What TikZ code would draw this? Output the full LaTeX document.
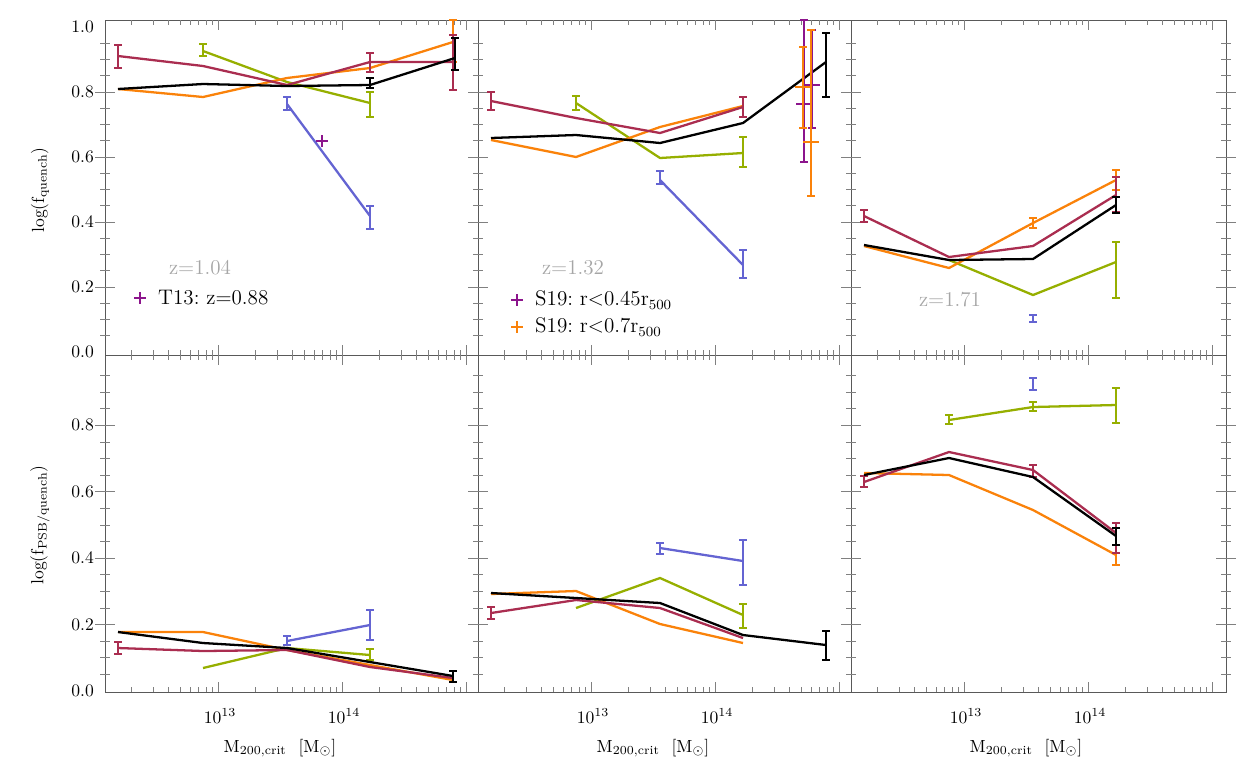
\documentclass[tikz,border=0pt]{standalone}
\usepackage{amsmath}
\usepackage{tikz}
\definecolor{qorange}{RGB}{250,130,10}
\definecolor{qmaroon}{RGB}{170,45,80}
\definecolor{qgreen}{RGB}{150,175,0}
\definecolor{qblue}{RGB}{100,100,210}
\definecolor{qpurple}{RGB}{140,20,140}
\newcommand{\ebar}[4]{\draw[#1] (#2,#3) -- (#2,#4) (#2-4,#3) -- (#2+4,#3) (#2-4,#4) -- (#2+4,#4);}
\begin{document}
\begin{tikzpicture}[x=0.02cm,y=-0.02cm]
  \tikzstyle{curve}=[line width=1.3pt, line join=round]
  \tikzstyle{errcap}=[line width=1pt]
  \tikzstyle{ticklab}=[font=\normalsize]
  \tikzstyle{ztext}=[text=gray!70, font=\large]
  \useasboundingbox (0,0) rectangle (1246,779);

  % panels and ticks
  \draw[gray!70!black] (105,20) rectangle (1226,692) (105,355) -- (1226,355)
    (478,20) -- (478,692) (851,20) -- (851,692);
  \foreach \ox in {0,373,746} {
    \foreach \d in {94,218,342,466} {
      \foreach \k in {2,...,9} {
        \pgfmathsetmacro{\tx}{\d+124*log10(\k)+\ox}
        \pgfmathtruncatemacro{\inside}{(\tx>105+\ox) && (\tx<478+\ox)}
        \ifnum\inside=1
          \draw[gray] (\tx,692) -- ++(0,-5) (\tx,355) -- ++(0,-5)
            (\tx,355) -- ++(0,5) (\tx,20) -- ++(0,5);
        \fi
      }
    }
    \foreach \d in {218,342,466} {
      \draw[gray] (\d+\ox,692) -- ++(0,-10) (\d+\ox,355) -- ++(0,-10)
        (\d+\ox,355) -- ++(0,10) (\d+\ox,20) -- ++(0,10);
    }
    \node[font=\normalsize] at (220+\ox,716) {$10^{13}$};
    \node[font=\normalsize] at (344+\ox,716) {$10^{14}$};
    \node at (280+\ox,748) {M$_{\text{200,crit}}$ \ [M$_\odot$]};
  }
  \foreach \xx in {105,478,851,1226} {
    \foreach \i in {1,...,19} {
      \draw[gray] (\xx,352-\i*16.25) -- ++(5,0) (\xx,352-\i*16.25) -- ++(-5,0);
      \draw[gray] (\xx,691-\i*16.6) -- ++(5,0) (\xx,691-\i*16.6) -- ++(-5,0);
    }
    \foreach \i in {1,...,4} {
      \draw[gray] (\xx,352-\i*65) -- ++(10,0) (\xx,352-\i*65) -- ++(-10,0);
      \draw[gray] (\xx,691-\i*66.5) -- ++(10,0) (\xx,691-\i*66.5) -- ++(-10,0);
    }
  }
  \foreach \v [count=\i from 0] in {0.0,0.2,0.4,0.6,0.8,1.0}
    \node[ticklab, anchor=east] at (100,352-\i*65) {\v};
  \foreach \v [count=\i from 0] in {0.0,0.2,0.4,0.6,0.8}
    \node[ticklab, anchor=east] at (100,691-\i*66.5) {\v};
  \node[rotate=90] at (40,190) {log(f$_{\text{quench}}$)};
  \node[rotate=90] at (40,525) {log(f$_{\text{PSB/quench}}$)};

  % top left
  \draw[curve, qblue] (287,104) -- (370,216);
  \ebar{errcap,qblue}{287}{97}{110} \ebar{errcap,qblue}{370}{206}{229}
  \draw[curve, qgreen] (203,51) -- (287,82) -- (370,103);
  \ebar{errcap,qgreen}{203}{44}{56} \ebar{errcap,qgreen}{370}{92}{117}
  \draw[curve, qorange] (118,89) -- (203,97) -- (287,78) -- (370,68) -- (453,42);
  \ebar{errcap,qorange}{453}{20}{62}
  \draw[curve, qmaroon] (118,56) -- (203,66) -- (287,85) -- (370,62) -- (453,62);
  \ebar{errcap,qmaroon}{118}{45}{68} \ebar{errcap,qmaroon}{370}{53}{72} \ebar{errcap,qmaroon}{453}{35}{90}
  \draw[curve] (118,89) -- (203,84) -- (287,86) -- (370,85) -- (455,58);
  \ebar{errcap}{455}{38}{70} \ebar{errcap}{370}{78}{88}
  \draw[qpurple, thick] (316,141) -- (328,141) (322,135) -- (322,147);
  \node[ztext] at (200,268) {z=1.04};
  \draw[qpurple, thick] (134,298) -- (146,298) (140,292) -- (140,304);
  \node[anchor=west, font=\large] at (152,298) {T13:\ z=0.88};

  % top middle
  \draw[curve, qblue] (660,180) -- (743,265);
  \ebar{errcap,qblue}{660}{171}{184} \ebar{errcap,qblue}{743}{250}{278}
  \draw[curve, qgreen] (576,103) -- (660,158) -- (743,153);
  \ebar{errcap,qgreen}{576}{96}{110} \ebar{errcap,qgreen}{743}{137}{167}
  \draw[curve, qorange] (491,140) -- (576,157) -- (660,127) -- (743,106);
  \draw[curve, qmaroon] (491,101) -- (576,118) -- (660,133) -- (743,107);
  \ebar{errcap,qmaroon}{491}{92}{110} \ebar{errcap,qmaroon}{743}{97}{117}
  \draw[curve] (491,138) -- (576,135) -- (660,143) -- (743,123) -- (826,62);
  \ebar{errcap}{826}{33}{97}
  \ebar{qpurple,thick}{804}{20}{162} \draw[qpurple,thick] (796,104) -- (812,104);
  \ebar{qpurple,thick}{812}{30}{128} \draw[qpurple,thick] (804,85) -- (820,85);
  \ebar{qorange,thick}{803}{47}{128} \draw[qorange,thick] (795,87) -- (811,87);
  \ebar{qorange,thick}{811}{30}{196} \draw[qorange,thick] (803,142) -- (819,142);
  \node[ztext] at (573,268) {z=1.32};
  \draw[qpurple, thick] (511,300) -- (523,300) (517,294) -- (517,306);
  \node[anchor=west, font=\large] at (529,300) {S19:\ r$<$0.45r$_{500}$};
  \draw[qorange, thick] (511,327) -- (523,327) (517,321) -- (517,333);
  \node[anchor=west, font=\large] at (529,327) {S19:\ r$<$0.7r$_{500}$};

  % top right
  \ebar{errcap,qblue}{1033}{315}{322}
  \draw[curve, qgreen] (949,260) -- (1033,295) -- (1116,262);
  \ebar{errcap,qgreen}{1116}{242}{298}
  \draw[curve, qorange] (864,246) -- (949,268) -- (1033,223) -- (1116,180);
  \ebar{errcap,qorange}{1116}{170}{190} \ebar{errcap,qorange}{1033}{218}{228}
  \draw[curve, qmaroon] (864,216) -- (949,257) -- (1033,246) -- (1116,195);
  \ebar{errcap,qmaroon}{864}{210}{222} \ebar{errcap,qmaroon}{1116}{177}{212}
  \draw[curve] (864,245) -- (949,260) -- (1033,259) -- (1116,205);
  \ebar{errcap}{1116}{197}{213}
  \node[ztext] at (950,300) {z=1.71};

  % bottom left
  \draw[curve, qblue] (287,641) -- (370,625);
  \ebar{errcap,qblue}{287}{636}{645} \ebar{errcap,qblue}{370}{610}{640}
  \draw[curve, qgreen] (203,668) -- (287,648) -- (370,655);
  \ebar{errcap,qgreen}{370}{649}{660}
  \draw[curve, qorange] (118,632) -- (203,632) -- (287,650) -- (370,665) -- (453,680);
  \draw[curve, qmaroon] (118,648) -- (203,651) -- (287,650) -- (370,667) -- (453,678);
  \ebar{errcap,qmaroon}{118}{642}{654}
  \draw[curve] (118,632) -- (203,643) -- (287,648) -- (370,662) -- (453,676);
  \ebar{errcap}{453}{671}{682}

  % bottom middle
  \draw[curve, qblue] (660,548) -- (743,561);
  \ebar{errcap,qblue}{660}{543}{554} \ebar{errcap,qblue}{743}{540}{585}
  \draw[curve, qgreen] (576,608) -- (660,578) -- (743,615);
  \ebar{errcap,qgreen}{743}{604}{628}
  \draw[curve, qorange] (491,594) -- (576,591) -- (660,624) -- (743,643);
  \draw[curve, qmaroon] (491,613) -- (576,600) -- (660,608) -- (743,638);
  \ebar{errcap,qmaroon}{491}{607}{619}
  \draw[curve] (491,593) -- (576,598) -- (660,603) -- (743,635) -- (826,645);
  \ebar{errcap}{826}{631}{660}

  % bottom right
  \ebar{errcap,qblue}{1033}{378}{390}
  \draw[curve, qgreen] (949,420) -- (1033,407) -- (1116,405);
  \ebar{errcap,qgreen}{949}{415}{424} \ebar{errcap,qgreen}{1033}{402}{411} \ebar{errcap,qgreen}{1116}{388}{423}
  \draw[curve, qorange] (864,473) -- (949,475) -- (1033,510) -- (1116,555);
  \ebar{errcap,qorange}{1116}{545}{565}
  \draw[curve, qmaroon] (864,482) -- (949,452) -- (1033,470) -- (1116,533);
  \ebar{errcap,qmaroon}{864}{476}{487} \ebar{errcap,qmaroon}{1033}{465}{477} \ebar{errcap,qmaroon}{1116}{523}{553}
  \draw[curve] (864,475) -- (949,458) -- (1033,477) -- (1116,536);
  \ebar{errcap}{1116}{528}{545}
\end{tikzpicture}
\end{document}
